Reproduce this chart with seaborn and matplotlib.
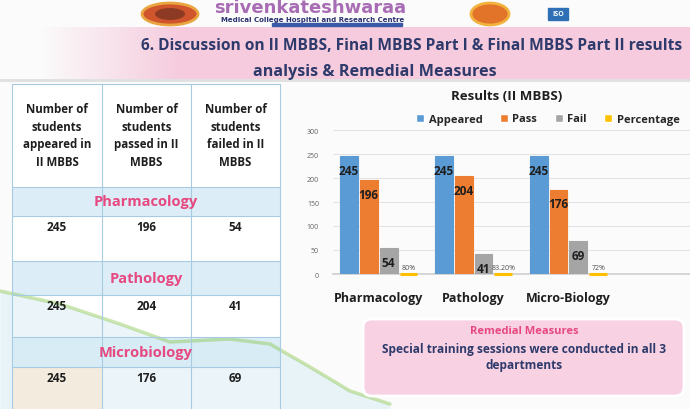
import numpy as np
import pandas as pd
import seaborn as sns
import matplotlib.pyplot as plt
from matplotlib.patches import Rectangle, Ellipse, FancyBboxPatch
from matplotlib.colors import to_rgb

subjects = ["Pharmacology", "Pathology", "Micro-Biology"]
table_subjects = ["Pharmacology", "Pathology", "Microbiology"]
appeared = [245, 245, 245]
passed = [196, 204, 176]
failed = [54, 41, 69]
percentage = [0.80, 0.832, 0.72]
percentage_labels = ["80%", "83.20%", "72%"]
series = ["Appeared", "Pass", "Fail", "Percentage"]
yticks = [0, 50, 100, 150, 200, 250, 300]
col_headers = ["Number of\nstudents\nappeared in\nII MBBS",
               "Number of\nstudents\npassed in II\nMBBS",
               "Number of\nstudents\nfailed in II\nMBBS"]

palette = {"Appeared": "#5b9bd5", "Pass": "#ed7d31", "Fail": "#a5a5a5", "Percentage": "#ffc000"}
navy = "#2e3a6b"
pink = "#e6487f"

sns.set_theme(style="white")
plt.rcParams["font.family"] = ["Open Sans", "DejaVu Sans"]

df = pd.DataFrame({
    "subject": subjects * 4,
    "series": np.repeat(series, 3),
    "value": appeared + passed + failed + percentage,
})

fig = plt.figure(figsize=(6.9, 4.1), dpi=100)
fig.patch.set_facecolor("#fbfbfb")

# ---- background / decorations (pixel coords) ----
bg = fig.add_axes([0, 0, 1, 1], zorder=0)
bg.set_xlim(0, 690)
bg.set_ylim(410, 0)
bg.axis("off")

# pink title band fading in from the left
band = np.ones((2, 690, 4))
band[..., :3] = to_rgb("#f5cbdd")
band[..., 3] = np.clip((np.arange(690) - 40) / 140, 0, 1)
bg.imshow(band, extent=(0, 690, 80, 28), aspect="auto", zorder=1)
bg.add_patch(Rectangle((0, 80), 690, 3, color="#c9c9c9", alpha=0.5, lw=0, zorder=1))

# header logos
bg.add_patch(Ellipse((170, 15), 56, 22, fc="#d0552c", ec="#e9a640", lw=2, zorder=2))
bg.add_patch(Ellipse((170, 15), 30, 12, fc="#8c3a24", ec="none", zorder=3))
bg.text(214, 8, "srivenkateshwaraa", color="#a86cb5", fontsize=13, fontweight="bold",
        family="DejaVu Sans", va="center", ha="left", zorder=3)
bg.text(221, 20, "Medical College Hospital and Research Centre", color="#2a3170",
        fontsize=5, fontweight="bold", family="DejaVu Sans", va="center", ha="left",
        zorder=3)
bg.add_patch(Rectangle((272, 24), 130, 3, color="#3a5aa8", zorder=3))
bg.add_patch(Ellipse((490, 15), 38, 22, fc="#e2742a", ec="#f2b23e", lw=2, zorder=2))
bg.add_patch(Rectangle((548, 9), 20, 12, color="#2f6fb5", zorder=2))
bg.text(558, 15, "ISO", color="white", fontsize=5, fontweight="bold", ha="center",
        va="center", zorder=3)

# title
bg.text(141, 46, "6. Discussion on II MBBS, Final MBBS Part I & Final MBBS Part II results",
        color=navy, fontsize=11.2, fontweight="bold", ha="left", va="center", zorder=3)
bg.text(375, 72, "analysis & Remedial Measures", color=navy, fontsize=11.6,
        fontweight="bold", ha="center", va="center", zorder=3)

# swoosh in lower left
sx = np.array([0, 60, 120, 170, 230, 270, 310, 350, 390])
sy = np.array([292, 305, 325, 343, 340, 345, 368, 392, 405])
bg.fill_between(sx, sy, 410, color="#d3ebf3", alpha=0.45, lw=0, zorder=1.6)
bg.plot(sx, sy, color="#8cc850", lw=2.5, alpha=0.45, zorder=1.6)
bg.add_patch(Rectangle((12, 368), 90, 42, color="#fbe3c3", alpha=0.5, lw=0, zorder=1.6))

# ---- table ----
xs = [12, 102, 191, 280]
col_c = [(xs[i] + xs[i + 1]) / 2 for i in range(3)]
bands = [(188, 217), (262, 296), (338, 368)]
rows = [(217, 262), (296, 338), (368, 410)]
line_c = "#a8cbe4"
bg.add_patch(Rectangle((xs[0], 85), xs[-1] - xs[0], 325, fc="white", ec="none", zorder=1.5))
for (y0, y1) in bands:
    bg.add_patch(Rectangle((xs[0], y0), xs[-1] - xs[0], y1 - y0, fc="#d9ebf7",
                           ec="none", alpha=0.9, zorder=1.5))
for x in xs:
    bg.plot([x, x], [85, 410], color=line_c, lw=0.8, zorder=2)
for y in [85, 188, 217, 262, 296, 338, 368]:
    bg.plot([xs[0], xs[-1]], [y, y], color=line_c, lw=0.8, zorder=2)
for c, h in zip(col_c, col_headers):
    bg.text(c, 136, h, ha="center", va="center", fontsize=8.3, fontweight="bold",
            color="#1e1e1e", linespacing=1.45, zorder=3)
cols = [appeared, passed, failed]
for i, name in enumerate(table_subjects):
    y0, y1 = bands[i]
    bg.text(146, (y0 + y1) / 2, name, ha="center", va="center", fontsize=10.5,
            fontweight="bold", color=pink, zorder=3)
    r0, r1 = rows[i]
    for c, vals in zip(col_c, cols):
        bg.text(c, r0 + 11, str(vals[i]), ha="center", va="center", fontsize=8.5,
                fontweight="bold", color="#1e1e1e", zorder=3)

# remedial box
bg.add_patch(FancyBboxPatch((363, 320), 321, 77, boxstyle="round,pad=0,rounding_size=9",
                            fc="#f8d2e3", ec="white", lw=2, zorder=3))
bg.text(524, 332, "Remedial Measures", color=pink, fontsize=8, fontweight="bold",
        ha="center", va="center", zorder=4)
bg.text(524, 350, "Special training sessions were conducted in all 3", color=navy,
        fontsize=8.6, fontweight="bold", ha="center", va="center", zorder=4)
bg.text(524, 366, "departments", color=navy, fontsize=8.6, fontweight="bold",
        ha="center", va="center", zorder=4)

# ---- chart ----
ax = fig.add_axes([333 / 690, 1 - 275 / 410, 357 / 690, 144 / 410], zorder=2)
ax.set_facecolor("none")
sns.barplot(data=df, x="subject", y="value", hue="series", hue_order=series,
            palette=palette, width=0.84, ax=ax, saturation=1, gap=0.1)
for cont, name in zip(ax.containers, series):
    for bar in cont:
        bar.set_edgecolor(palette[name])
        bar.set_linewidth(2.2 if name == "Percentage" else 0.8)
        if name == "Percentage":
            bar.set_clip_on(False)
for cont, vals in zip(ax.containers[:3], [appeared, passed, failed]):
    ax.bar_label(cont, labels=[str(v) for v in vals], padding=-15, fontsize=8.5,
                 fontweight="bold", color="#1e1e1e")
ax.bar_label(ax.containers[3], labels=percentage_labels, padding=2, fontsize=5,
             color="#505050")

ax.set_xlim(-0.48, 3.28)
ax.set_ylim(0, 300)
ax.set_yticks(yticks)
ax.yaxis.grid(True, color="#dedede", lw=0.6)
ax.set_axisbelow(True)
ax.tick_params(axis="y", labelsize=5, colors="#606060", pad=10, length=0)
ax.tick_params(axis="x", labelsize=9, pad=12, length=0)
for t in ax.get_xticklabels():
    t.set_fontweight("bold")
    t.set_color("#1e1e1e")
for s in ["left", "right", "top"]:
    ax.spines[s].set_visible(False)
ax.spines["bottom"].set_color("#d0d0d0")
ax.spines["bottom"].set_zorder(0)
ax.set_xlabel("")
ax.set_ylabel("")

fig.text(507 / 690, 1 - 97 / 410, "Results (II MBBS)", ha="center", va="center",
         fontsize=9.5, fontweight="bold", color="#1e1e1e")
ax.legend(ncol=4, loc="center", bbox_to_anchor=(548 / 690, 1 - 120 / 410),
          bbox_transform=fig.transFigure, frameon=False,
          handlelength=0.7, handleheight=0.7, handletextpad=0.4, columnspacing=1.6,
          prop={"weight": "bold", "size": 8})

fig.savefig("out.png", dpi=100, facecolor=fig.get_facecolor())
